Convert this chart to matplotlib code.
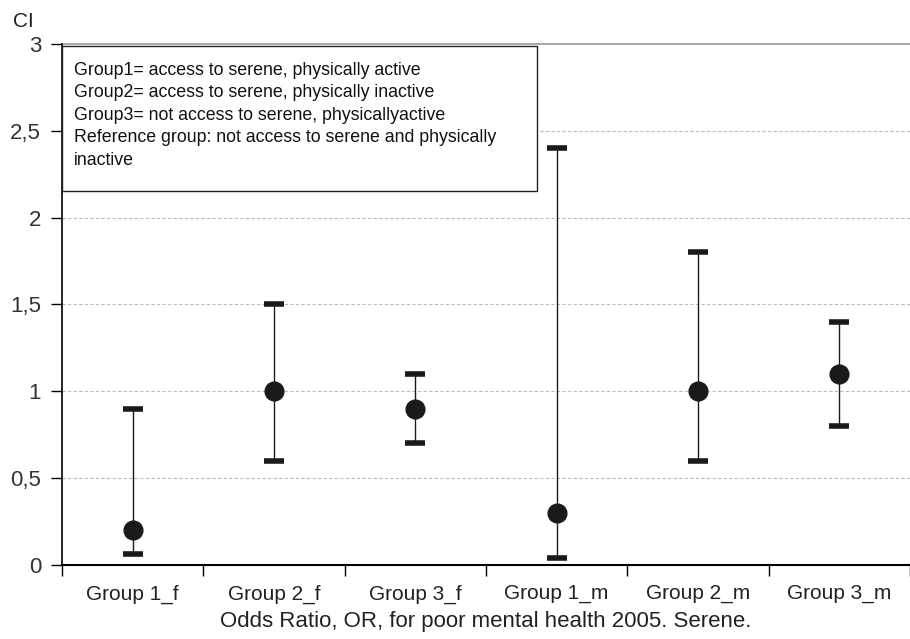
import matplotlib
matplotlib.use("Agg")
import matplotlib.pyplot as plt
from matplotlib.patches import Rectangle
from matplotlib.ticker import FuncFormatter

plt.rcParams['font.family'] = ['Liberation Sans', 'DejaVu Sans']

groups = ["Group 1_f", "Group 2_f", "Group 3_f", "Group 1_m", "Group 2_m", "Group 3_m"]
odds_ratio = [0.2, 1.0, 0.9, 0.3, 1.0, 1.1]
ci_low = [0.06, 0.6, 0.7, 0.04, 0.6, 0.8]
ci_high = [0.9, 1.5, 1.1, 2.4, 1.8, 1.4]
note_lines = [
    "Group1= access to serene, physically active",
    "Group2= access to serene, physically inactive",
    "Group3= not access to serene, physicallyactive",
    "Reference group: not access to serene and physically",
    "inactive",
]

fig = plt.figure(figsize=(9.1, 6.39), dpi=100)
ax = fig.add_axes([0.068, 0.116, 0.932, 0.815])

x = list(range(len(groups)))
yerr = [[o - l for o, l in zip(odds_ratio, ci_low)],
        [h - o for o, h in zip(odds_ratio, ci_high)]]
ax.errorbar(x, odds_ratio, yerr=yerr, fmt='o', color='#1a1a1a', ecolor='#1a1a1a',
            markersize=13.5, elinewidth=1, capsize=7, capthick=4, zorder=3)

ax.set_xlim(-0.5, 5.43)
ax.set_ylim(0, 3)
ax.set_yticks([0, 0.5, 1, 1.5, 2, 2.5, 3])
ax.yaxis.set_major_formatter(FuncFormatter(lambda v, p: ('%g' % v).replace('.', ',')))
ax.set_xticks(x)
ax.set_xticklabels(groups)
ax.set_xticks([i - 0.5 for i in range(len(groups) + 1)], minor=True)
ax.tick_params(axis='x', which='major', length=0, pad=14, labelsize=15, labelcolor='#222222')
ax.tick_params(axis='x', which='minor', length=8, width=1, direction='out')
ax.tick_params(axis='y', length=8, width=1, labelsize=16, pad=7, labelcolor='#333333')

for v in [0.5, 1, 1.5, 2, 2.5]:
    ax.axhline(v, color='#bbbbbb', linewidth=0.8, linestyle=(0, (3, 2)), zorder=0)
ax.axhline(3, color='#999999', linewidth=1.2, zorder=0, clip_on=False)

for s in ['top', 'right']:
    ax.spines[s].set_visible(False)
ax.spines['left'].set_linewidth(1.2)
ax.spines['bottom'].set_linewidth(1.5)

ax.set_xlabel("Odds Ratio, OR, for poor mental health 2005. Serene.", fontsize=16,
              labelpad=5, color='#222222')
fig.text(0.014, 0.957, "CI", fontsize=15, color='#222222')

ax.add_patch(Rectangle((0.0, 0.718), 0.56, 0.278, transform=ax.transAxes,
                       facecolor='white', edgecolor='#222222', linewidth=1, zorder=4))
ax.text(0.014, 0.966, "\n".join(note_lines), transform=ax.transAxes, va='top', ha='left',
        fontsize=12.8, linespacing=1.42, zorder=5, color='#111111')

plt.savefig("out.png", dpi=100)
